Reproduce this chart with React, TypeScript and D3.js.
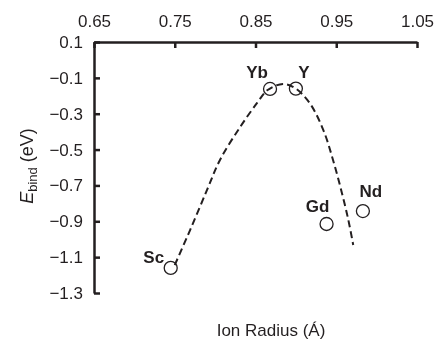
import React, { useEffect, useRef } from "react";
import * as d3 from "d3";

// measured points (ion radius in Å, binding energy in eV)
const elements = ["Sc", "Yb", "Y", "Gd", "Nd"];
const radius = [0.745, 0.868, 0.9, 0.938, 0.983];
const ebind = [-1.16, -0.162, -0.16, -0.915, -0.843];

// dashed fit line
const fitX = [0.75, 0.769, 0.79, 0.806, 0.831, 0.852, 0.865, 0.884, 0.899, 0.917, 0.934, 0.946, 0.957, 0.965, 0.971];
const fitY = [-1.144, -0.949, -0.725, -0.558, -0.374, -0.24, -0.168, -0.134, -0.157, -0.24, -0.391, -0.558, -0.742, -0.893, -1.032];

const xTicks = [0.65, 0.75, 0.85, 0.95, 1.05];
const yTicks = [0.1, -0.1, -0.3, -0.5, -0.7, -0.9, -1.1, -1.3];

// label offsets relative to the point (px)
const labelDx = [-17, -13, 8, -9, 8];
const labelDy = [-5, -11, -11, -12, -14];

export default function App() {
  const svgRef = useRef<SVGSVGElement>(null);

  useEffect(() => {
    const w = 438;
    const h = 341;
    const svg = d3.select(svgRef.current).attr("width", w).attr("height", h).style("display", "block");
    svg.selectAll("*").remove();

    const ink = "#231f20";
    const font = "'Liberation Sans', Arial, Helvetica, sans-serif";

    const x = d3.scaleLinear().domain([0.65, 1.05]).range([94, 417]);
    const y = d3.scaleLinear().domain([0.1, -1.3]).range([42, 293]);

    // top axis
    const xAxis = svg.append("g")
      .attr("transform", `translate(0, ${y(0.1)})`)
      .call(d3.axisTop(x).tickValues(xTicks).tickSizeInner(-6).tickSizeOuter(0).tickPadding(15).tickFormat(d3.format(".2f")));
    xAxis.select(".domain").attr("stroke", ink).attr("stroke-width", 2.5);
    xAxis.selectAll(".tick line").attr("stroke", ink).attr("stroke-width", 2.5);
    xAxis.selectAll(".tick text")
      .attr("fill", ink).style("font-family", font).style("font-size", "17px");

    // left axis
    const yAxis = svg.append("g")
      .attr("transform", `translate(${x(0.65)}, 0)`)
      .call(d3.axisLeft(y).tickValues(yTicks).tickSizeInner(-6).tickSizeOuter(0).tickPadding(11)
        .tickFormat((d) => d3.format(".1f")(d as number).replace("-", "\u2212")));
    yAxis.select(".domain").attr("stroke", ink).attr("stroke-width", 2.5);
    yAxis.selectAll(".tick line").attr("stroke", ink).attr("stroke-width", 2.5);
    yAxis.selectAll(".tick text")
      .attr("fill", ink).style("font-family", font).style("font-size", "17px");

    // dashed fit
    const fit = fitX.map((v, i) => [v, fitY[i]] as [number, number]);
    svg.append("path")
      .datum(fit)
      .attr("d", d3.line().x((d) => x(d[0])).y((d) => y(d[1])).curve(d3.curveCatmullRom))
      .attr("fill", "none")
      .attr("stroke", ink)
      .attr("stroke-width", 2)
      .attr("stroke-dasharray", "7,4");

    // points
    svg.selectAll(".pt")
      .data(radius)
      .enter()
      .append("circle")
      .attr("class", "pt")
      .attr("cx", (d) => x(d))
      .attr("cy", (_d, i) => y(ebind[i]))
      .attr("r", 6.5)
      .attr("fill", "none")
      .attr("stroke", ink)
      .attr("stroke-width", 1.3);

    svg.selectAll(".lbl")
      .data(elements)
      .enter()
      .append("text")
      .attr("class", "lbl")
      .attr("x", (_d, i) => x(radius[i]) + labelDx[i])
      .attr("y", (_d, i) => y(ebind[i]) + labelDy[i])
      .attr("text-anchor", "middle")
      .attr("fill", ink)
      .style("font-family", font)
      .style("font-size", "17px")
      .style("font-weight", "bold")
      .text((d) => d);

    // axis titles
    svg.append("text")
      .attr("x", 271)
      .attr("y", 336)
      .attr("text-anchor", "middle")
      .attr("fill", ink)
      .style("font-family", font)
      .style("font-size", "17px")
      .text("Ion Radius (Á)");

    const yt = svg.append("text")
      .attr("transform", `translate(33, 166) rotate(-90)`)
      .attr("text-anchor", "middle")
      .attr("fill", ink)
      .style("font-family", font)
      .style("font-size", "18px");
    yt.append("tspan").style("font-style", "italic").text("E");
    yt.append("tspan").attr("dy", 4).style("font-size", "13px").text("bind");
    yt.append("tspan").attr("dy", -4).text(" (eV)");
  }, []);

  return (
    <div style={{ position: "fixed", left: 0, top: 0 }}>
      <svg ref={svgRef}></svg>
    </div>
  );
}
